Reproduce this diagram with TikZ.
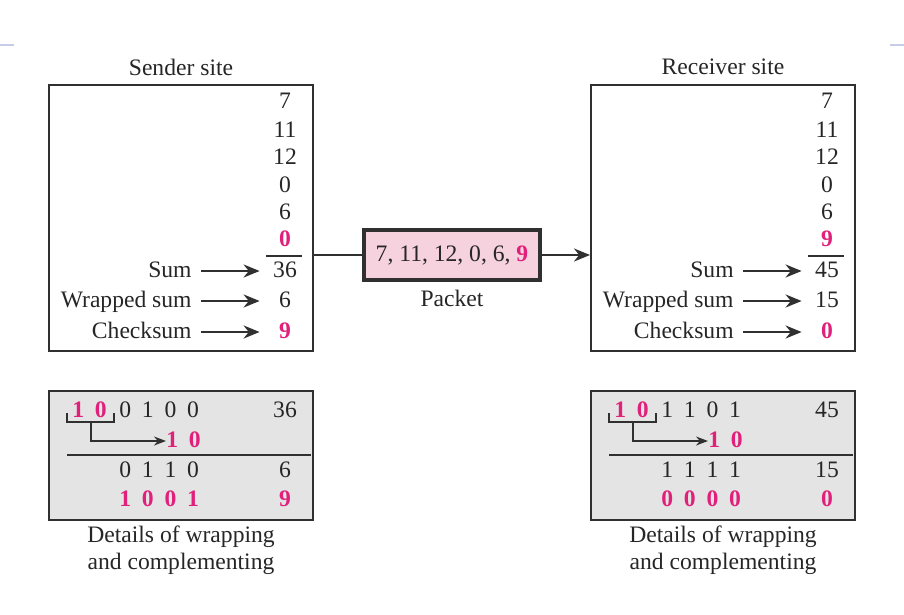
\documentclass[tikz,border=0pt]{standalone}
\usepackage{fontspec}
\setmainfont{Liberation Serif}
\usetikzlibrary{arrows.meta}
\definecolor{chkpink}{HTML}{E0207A}
\definecolor{pktfill}{HTML}{F6D2DE}
\definecolor{detgray}{HTML}{E4E4E4}
\definecolor{edgegray}{HTML}{303030}
\definecolor{slideline}{HTML}{C8CCE8}
\newcommand{\figfont}{\fontsize{11.8}{13.5}\selectfont}
\tikzstyle{sitebox}=[draw=edgegray, line width=1pt, minimum width=132pt, minimum height=133pt, inner sep=0pt]
\tikzstyle{detbox}=[draw=edgegray, line width=1pt, fill=detgray, minimum width=132pt, minimum height=64.5pt, inner sep=0pt]
\tikzstyle{labelarrow}=[draw=edgegray, line width=1.2pt, -{Stealth[length=8pt,width=6.5pt]}, shorten <=4.5pt, shorten >=6pt]
\tikzstyle{carry}=[draw=edgegray, line width=0.7pt, -{Stealth[length=6pt,width=4.5pt]}]
\tikzstyle{num}=[inner sep=0pt, minimum width=13pt, text height=8pt, text depth=2pt]
\tikzstyle{lbl}=[inner sep=0pt, anchor=east, text height=8pt, text depth=2pt]
\tikzstyle{bits}=[inner sep=0pt, anchor=west, text height=8pt, text depth=2pt]
\tikzstyle{hl}=[text=chkpink, font=\figfont\bfseries]
\newcommand{\gp}{\hspace{5.4pt}}

\begin{document}
\begin{tikzpicture}[x=0.5pt, y=-0.5pt, font=\figfont, text=black!85]
  \useasboundingbox (0,0) rectangle (904,615);
  \draw [slideline, line width=1pt] (0,45) -- (14,45);
  \draw [slideline, line width=1pt] (890,45) -- (904,45);

  % sender site
  \node (stitle) at (181,67) {Sender site};
  \node [sitebox] (sbox) at (181,218) {};
  \node [num] (s1) at (285,103) {7};
  \node [num] (s2) at (285,131) {11};
  \node [num] (s3) at (285,158) {12};
  \node [num] (s4) at (285,186) {0};
  \node [num] (s5) at (285,213) {6};
  \node [num, hl] (s6) at (285,240) {0};
  \draw [edgegray, line width=0.7pt] (266,256) -- (302,256);
  \node [num] (ssum) at (285,271) {36};
  \node [num] (swrap) at (285,301) {6};
  \node [num, hl] (schk) at (285,332) {9};
  \node [lbl] (lsum) at (192,271) {Sum};
  \node [lbl] (lwrap) at (192,301) {Wrapped sum};
  \node [lbl] (lchk) at (192,332) {Checksum};
  \draw [labelarrow] (lsum.east) -- (ssum.west);
  \draw [labelarrow] (lwrap.east) -- (swrap.west);
  \draw [labelarrow] (lchk.east) -- (schk.west);

  % sender wrapping details
  \node [detbox] (sdet) at (181,455.5) {};
  \node [bits, hl] (shigh) at (72,411) {1\gp0};
  \node [bits] at (119,411) {0\gp1\gp0\gp0};
  \node [num] at (285,411) {36};
  \draw [edgegray, line width=0.6pt] (67,413) -- (67,422) -- (114,422) -- (114,413);
  \node [bits, hl] (scarry) at (166,441) {1\gp0};
  \draw [carry] (91,422) |- (scarry.west);
  \draw [edgegray, line width=0.8pt] (67,455) -- (311,455);
  \node [bits] at (119,471) {0\gp1\gp1\gp0};
  \node [num] at (285,471) {6};
  \node [bits, hl] at (119,500) {1\gp0\gp0\gp1};
  \node [num, hl] at (285,500) {9};
  \node [align=center] (scap) at (181,550) {Details of wrapping\\and complementing};

  % packet
  \node [draw=edgegray, fill=pktfill, line width=2pt, minimum width=88pt, minimum height=25pt] (packet) at (452,255)
        {7, 11, 12, 0, 6, \textcolor{chkpink}{\bfseries 9}};
  \node (plabel) at (452,298) {Packet};

  % receiver site
  \begin{scope}[shift={(542,0)}]
  \node (rtitle) at (181,67) {Receiver site};
  \node [sitebox] (rbox) at (181,218) {};
  \node [num] (r1) at (285,103) {7};
  \node [num] (r2) at (285,131) {11};
  \node [num] (r3) at (285,158) {12};
  \node [num] (r4) at (285,186) {0};
  \node [num] (r5) at (285,213) {6};
  \node [num, hl] (r6) at (285,240) {9};
  \draw [edgegray, line width=0.7pt] (266,256) -- (302,256);
  \node [num] (rsum) at (285,271) {45};
  \node [num] (rwrap) at (285,301) {15};
  \node [num, hl] (rchk) at (285,332) {0};
  \node [lbl] (qsum) at (192,271) {Sum};
  \node [lbl] (qwrap) at (192,301) {Wrapped sum};
  \node [lbl] (qchk) at (192,332) {Checksum};
  \draw [labelarrow] (qsum.east) -- (rsum.west);
  \draw [labelarrow] (qwrap.east) -- (rwrap.west);
  \draw [labelarrow] (qchk.east) -- (rchk.west);

  % receiver wrapping details
  \node [detbox] (rdet) at (181,455.5) {};
  \node [bits, hl] (rhigh) at (72,411) {1\gp0};
  \node [bits] at (119,411) {1\gp1\gp0\gp1};
  \node [num] at (285,411) {45};
  \draw [edgegray, line width=0.6pt] (67,413) -- (67,422) -- (114,422) -- (114,413);
  \node [bits, hl] (rcarry) at (166,441) {1\gp0};
  \draw [carry] (91,422) |- (rcarry.west);
  \draw [edgegray, line width=0.8pt] (67,455) -- (311,455);
  \node [bits] at (119,471) {1\gp1\gp1\gp1};
  \node [num] at (285,471) {15};
  \node [bits, hl] at (119,500) {0\gp0\gp0\gp0};
  \node [num, hl] at (285,500) {0};
  \node [align=center] (rcap) at (181,550) {Details of wrapping\\and complementing};
  \end{scope}

  % connections
  \draw [edgegray, line width=1.2pt] (packet.west) -- (packet -| sbox.east);
  \draw [labelarrow, shorten <=0pt, shorten >=0pt] (packet.east) -- (packet -| rbox.west);
\end{tikzpicture}
\end{document}
